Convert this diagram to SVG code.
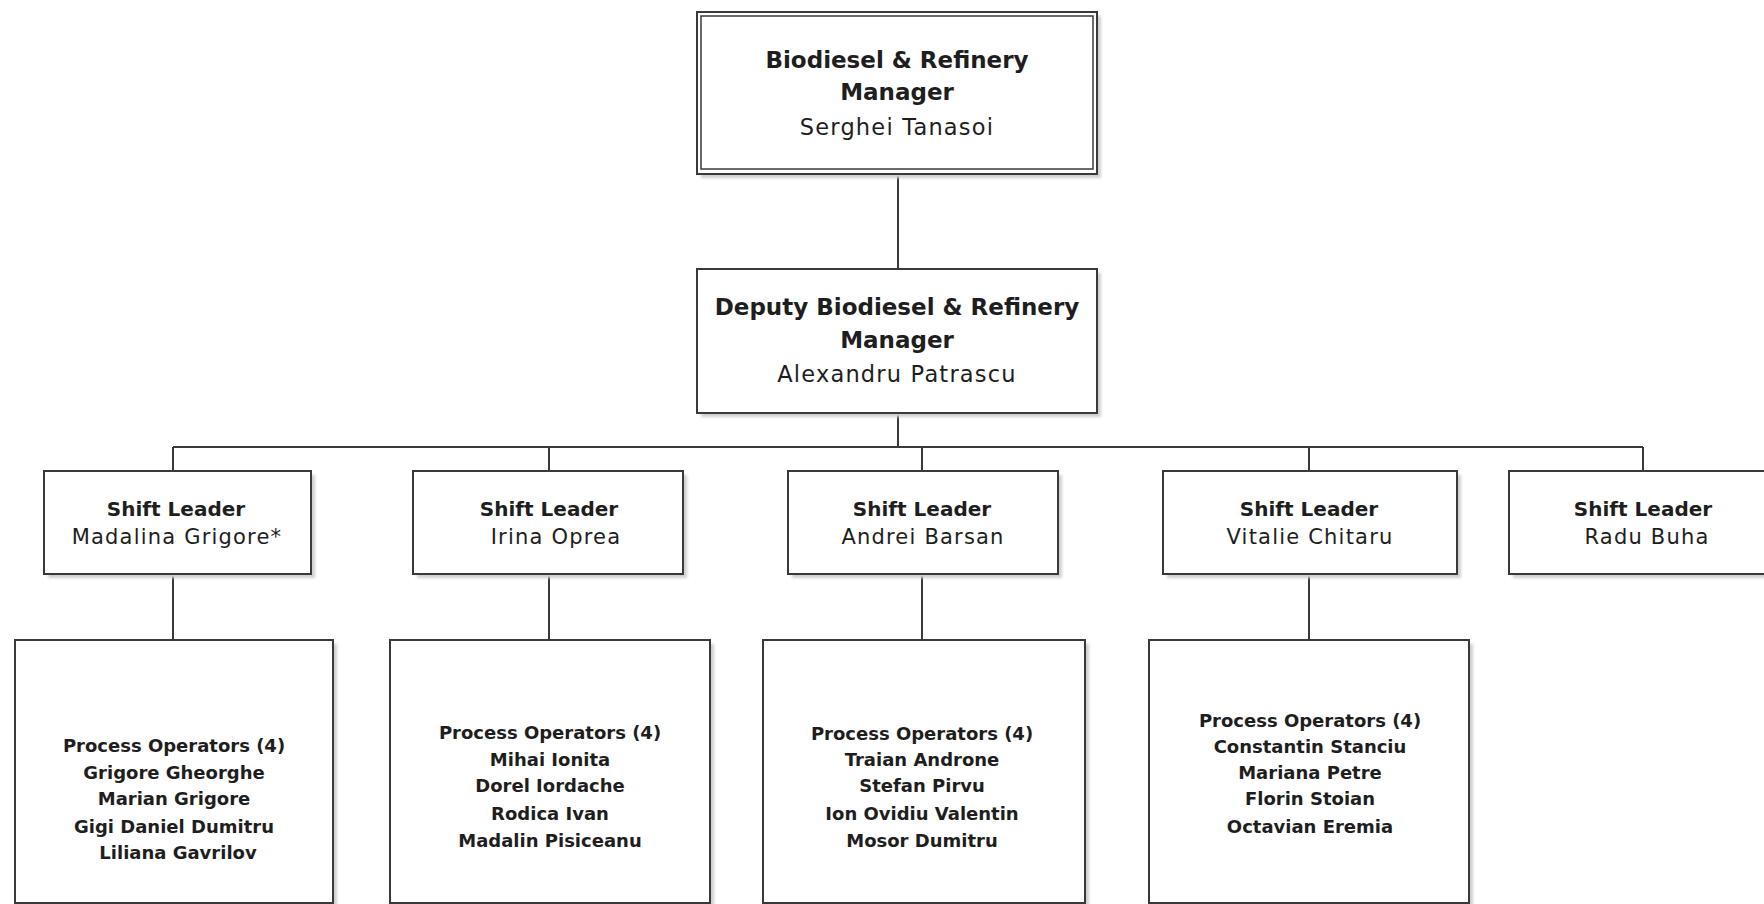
<svg xmlns="http://www.w3.org/2000/svg" width="1764" height="904" viewBox="0 0 1764 904">
<defs>
<filter id="sh" x="-5%" y="-5%" width="115%" height="115%"><feGaussianBlur stdDeviation="1.5"/></filter>
</defs>
<style>
.box{fill:#fff;stroke:#3a3a3a;stroke-width:2}
.shadow{fill:#cfcfcf;filter:url(#sh)}
.conn{stroke:#3a3a3a;stroke-width:2;fill:none}
text{font-family:"DejaVu Sans",sans-serif;fill:#1e1e1e;text-anchor:middle}
.t{font-weight:bold;font-size:23px}
.n{font-size:22.5px;letter-spacing:1.2px}
.sl{font-weight:bold;font-size:20px}
.sn{font-size:21px;letter-spacing:1.2px}
.op{font-weight:bold;font-size:18px}
</style>
<rect width="1764" height="904" fill="#fff"/>
<g id="connectors">
<path class="conn" d="M898 174V269M898 413V447M173 447H1643M173 447V471M549 447V471M922 447V471M1309 447V471M1643 447V471M173 574V640M549 574V640M922 574V640M1309 574V640"/>
</g>
<g id="manager">
<rect class="shadow" x="701" y="16" width="400" height="162"/>
<rect class="box" x="697" y="12" width="400" height="162" stroke-width="2.5"/>
<rect x="701" y="16" width="392" height="153" fill="none" stroke="#3a3a3a" stroke-width="1.5"/>
<text class="t" x="897" y="68">Biodiesel &amp; Refinery</text>
<text class="t" x="897" y="100">Manager</text>
<text class="n" x="897" y="135">Serghei Tanasoi</text>
</g>
<g id="deputy">
<rect class="shadow" x="701" y="273" width="400" height="144"/>
<rect class="box" x="697" y="269" width="400" height="144"/>
<text class="t" x="897" y="315">Deputy Biodiesel &amp; Refinery</text>
<text class="t" x="897" y="348">Manager</text>
<text class="n" x="897" y="382">Alexandru Patrascu</text>
</g>
<g id="shift1">
<rect class="shadow" x="48" y="475" width="267" height="103"/>
<rect class="box" x="44" y="471" width="267" height="103"/>
<text class="sl" x="176" y="516">Shift Leader</text>
<text class="sn" x="177" y="544">Madalina Grigore*</text>
</g>
<g id="shift2">
<rect class="shadow" x="417" y="475" width="270" height="103"/>
<rect class="box" x="413" y="471" width="270" height="103"/>
<text class="sl" x="549" y="516">Shift Leader</text>
<text class="sn" x="556" y="544">Irina Oprea</text>
</g>
<g id="shift3">
<rect class="shadow" x="792" y="475" width="270" height="103"/>
<rect class="box" x="788" y="471" width="270" height="103"/>
<text class="sl" x="922" y="516">Shift Leader</text>
<text class="sn" x="923" y="544">Andrei Barsan</text>
</g>
<g id="shift4">
<rect class="shadow" x="1167" y="475" width="294" height="103"/>
<rect class="box" x="1163" y="471" width="294" height="103"/>
<text class="sl" x="1309" y="516">Shift Leader</text>
<text class="sn" x="1310" y="544">Vitalie Chitaru</text>
</g>
<g id="shift5">
<rect class="shadow" x="1513" y="475" width="270" height="103"/>
<rect class="box" x="1509" y="471" width="270" height="103"/>
<text class="sl" x="1643" y="516">Shift Leader</text>
<text class="sn" x="1647" y="544">Radu Buha</text>
</g>
<g id="ops1">
<rect class="shadow" x="19" y="644" width="318" height="263"/>
<rect class="box" x="15" y="640" width="318" height="263"/>
<text class="op" x="174" y="752">Process Operators (4)</text>
<text class="op" x="174" y="779">Grigore Gheorghe</text>
<text class="op" x="174" y="805">Marian Grigore</text>
<text class="op" x="174" y="833">Gigi Daniel Dumitru</text>
<text class="op" x="178" y="859">Liliana Gavrilov</text>
</g>
<g id="ops2">
<rect class="shadow" x="394" y="644" width="320" height="263"/>
<rect class="box" x="390" y="640" width="320" height="263"/>
<text class="op" x="550" y="739">Process Operators (4)</text>
<text class="op" x="550" y="766">Mihai Ionita</text>
<text class="op" x="550" y="792">Dorel Iordache</text>
<text class="op" x="550" y="820">Rodica Ivan</text>
<text class="op" x="550" y="847">Madalin Pisiceanu</text>
</g>
<g id="ops3">
<rect class="shadow" x="767" y="644" width="322" height="263"/>
<rect class="box" x="763" y="640" width="322" height="263"/>
<text class="op" x="922" y="740">Process Operators (4)</text>
<text class="op" x="922" y="766">Traian Androne</text>
<text class="op" x="922" y="792">Stefan Pirvu</text>
<text class="op" x="922" y="820">Ion Ovidiu Valentin</text>
<text class="op" x="922" y="847">Mosor Dumitru</text>
</g>
<g id="ops4">
<rect class="shadow" x="1153" y="644" width="320" height="263"/>
<rect class="box" x="1149" y="640" width="320" height="263"/>
<text class="op" x="1310" y="727">Process Operators (4)</text>
<text class="op" x="1310" y="753">Constantin Stanciu</text>
<text class="op" x="1310" y="779">Mariana Petre</text>
<text class="op" x="1310" y="805">Florin Stoian</text>
<text class="op" x="1310" y="833">Octavian Eremia</text>
</g>
</svg>
